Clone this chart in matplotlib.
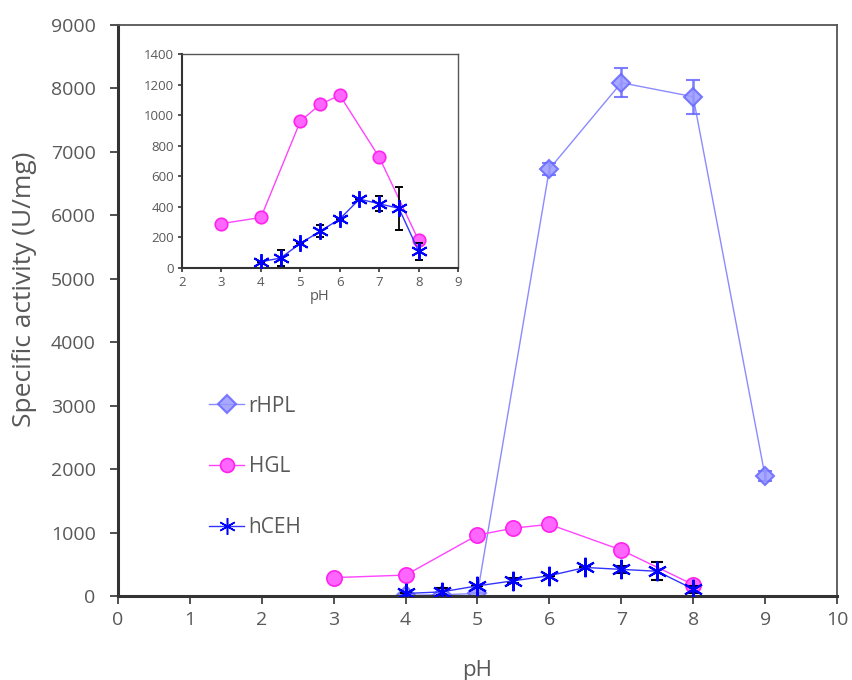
import matplotlib
matplotlib.use("Agg")
import matplotlib.pyplot as plt
from matplotlib.lines import Line2D

plt.rcParams['font.family'] = ['Open Sans', 'DejaVu Sans']

# Data
ph_rhpl = [4, 4.5, 5, 6, 7, 8, 9]
rhpl = [10, 20, 40, 6730, 8090, 7870, 1890]
rhpl_err = [0, 0, 0, 100, 230, 270, 80]

ph_hgl = [3, 4, 5, 5.5, 6, 7, 8]
hgl = [290, 330, 960, 1070, 1130, 725, 180]

ph_hceh = [4, 4.5, 5, 5.5, 6, 6.5, 7, 7.5, 8]
hceh = [40, 65, 160, 240, 320, 450, 420, 390, 110]
hceh_err = [0, 55, 0, 40, 0, 0, 50, 140, 55]

series_names = ['rHPL', 'HGL', 'hCEH']

x_ticks = list(range(0, 11))
y_ticks = list(range(0, 9001, 1000))
inset_x_ticks = list(range(2, 10))
inset_y_ticks = list(range(0, 1401, 200))

GRAY = '#595959'
star = (6, 2, 0)

fig = plt.figure(figsize=(8.53, 6.8), dpi=100)
ax = fig.add_axes([0.1383, 0.1235, 0.9812 - 0.1383, 0.9632 - 0.1235])

def style_axes(a, lw_main, lw_other, fs, tlen):
    for s in ['left', 'bottom']:
        a.spines[s].set_linewidth(lw_main)
        a.spines[s].set_color('#333333')
    for s in ['top', 'right']:
        a.spines[s].set_linewidth(lw_other)
        a.spines[s].set_color('#555555')
    a.tick_params(direction='out', length=tlen, width=1.2, color='#333333',
                  labelcolor=GRAY, labelsize=fs, top=False, right=False)

rhpl_style = dict(color='#7777FF', lw=1.0, marker='D', mfc='#9999FF', mec='#6666FF', mew=1.5)
hgl_style = dict(color='#FF44FF', lw=1.0, marker='o', mfc='#FF66FF', mec='#FF22EE', mew=1.2)
hceh_style = dict(color='#3333FF', lw=1.0, marker=star, mec='#0000FF', mfc='#0000FF', mew=1.5)

# rHPL
ax.errorbar(ph_rhpl, rhpl, yerr=rhpl_err, ms=9, alpha=0.85,
            ecolor='#6666FF', elinewidth=1.8, capsize=5, capthick=1.8,
            zorder=2, **rhpl_style)
# HGL
ax.plot(ph_hgl, hgl, ms=11, zorder=3, **hgl_style)
# hCEH
ax.errorbar(ph_hceh, hceh, yerr=hceh_err, ms=14,
            ecolor='black', elinewidth=1.5, capsize=4, capthick=1.5,
            zorder=4, **hceh_style)

ax.set_xlim(0, 10)
ax.set_ylim(0, 9000)
ax.set_xticks(x_ticks)
ax.set_yticks(y_ticks)
style_axes(ax, 2.2, 1.3, 14, 6)
ax.tick_params(axis='y', pad=10)
ax.tick_params(axis='x', pad=5)
ax.set_xlabel('pH', fontsize=16, color=GRAY, labelpad=22)
ax.set_ylabel('Specific activity (U/mg)', fontsize=19, color=GRAY)
ax.yaxis.set_label_coords(-0.113, 0.5376)

handles = [
    Line2D([], [], ms=9, alpha=0.85, **rhpl_style),
    Line2D([], [], ms=10, **hgl_style),
    Line2D([], [], ms=12, **{**hceh_style, 'mew': 1.1}),
]
leg = fig.legend(handles, series_names, loc='upper left',
                 bbox_to_anchor=(0.245, 0.418),
                 frameon=False, fontsize=15, labelspacing=1.9, handlelength=1.7,
                 handletextpad=0.2, borderpad=0, borderaxespad=0)
for t in leg.get_texts():
    t.set_color(GRAY)

# Inset
axi = fig.add_axes([0.2134, 0.606, 0.537 - 0.2134, 0.9206 - 0.606])
axi.plot(ph_hgl, hgl, ms=9, zorder=3, **hgl_style)
axi.errorbar(ph_hceh, hceh, yerr=hceh_err, ms=12,
             ecolor='black', elinewidth=1.3, capsize=3, capthick=1.3, zorder=4,
             **{**hceh_style, 'mew': 1.4})
axi.set_xlim(2, 9)
axi.set_ylim(0, 1400)
axi.set_xticks(inset_x_ticks)
axi.set_yticks(inset_y_ticks)
style_axes(axi, 1.5, 1.0, 9.5, 3)
axi.tick_params(pad=3)
axi.set_xlabel('pH', fontsize=10.5, color=GRAY, labelpad=0)

fig.savefig('out.png', dpi=100)
